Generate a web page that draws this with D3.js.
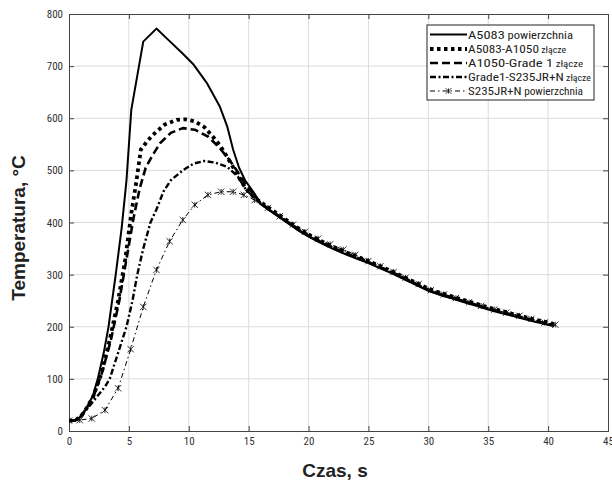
<!DOCTYPE html>
<html><head><meta charset="utf-8">
<script src="https://cdn.jsdelivr.net/npm/d3@7"></script>
<style>
html,body{margin:0;padding:0;background:#fff;}
svg{display:block;}
</style></head>
<body>
<svg id="chart" width="612" height="483"></svg>
<script>
// ---- data ----
const xTicks = [0,5,10,15,20,25,30,35,40,45];
const yTicks = [0,100,200,300,400,500,600,700,800];

const seriesNames = [
  ["A5083", " powierzchnia"],
  ["A5083-A1050", " złącze"],
  ["A1050-Grade 1", " złącze"],
  ["Grade1-S235JR+N", " złącze"],
  ["S235JR+N", " powierzchnia"]
];

const tailT = [16,17,18,19,20,21,22,23,24,25,26,27,28,29,30,31,32,33,34,35,36,37,38,39,40,40.5];
const tail1 = [435,419,403,387,373,361,350,340,331,322,312,302,291,280,269,261,254,247,240,233,227,221,215,209,204,201];
const tail2 = [439,423,407,391,377,365,354,344,335,326,316,306,295,284,273,265,258,251,244,237,231,225,219,213,208,205];
const tail3 = [437,421,405,389,375,363,352,342,333,324,314,304,293,282,271,263,256,249,242,235,229,223,217,211,206,203];
const tail4 = [436,420,404,388,374,362,351,341,332,323,313,303,292,281,270,262,255,248,241,234,228,222,216,210,205,202];

const s1T = [0,0.5,1,1.5,2,2.4,2.9,3.3,3.9,4.4,4.8,5.2,6.2,7.3,8.4,9.4,10.4,11.5,12.6,13.2,13.7,14.2,14.7,15.5];
const s1V = [20,20,28,45,68,100,150,200,300,390,481,616,747,772,748,726,703,668,622,585,540,505,481,455];

const s2T = [0,0.5,1,1.5,2,2.7,3.4,4.1,4.7,5.2,5.6,6.0,6.5,7.0,8.0,9.0,9.7,10.5,11.3,12.0,12.6,13.2,13.8,14.4,15.0,15.5];
const s2V = [20,20,28,45,65,110,175,250,330,417,475,540,555,568,588,597,598,594,583,565,548,526,502,478,458,448];

const s3T = [0,0.5,1,2,2.8,3.5,4.2,4.8,5.4,5.9,6.4,6.9,7.6,8.5,9.5,10.5,11.6,12.5,13.4,14.0,14.7,15.5];
const s3V = [20,20,28,63,115,175,250,330,410,465,505,526,552,572,581,578,565,545,520,500,475,452];

const s4T = [0,0.5,1.2,2.0,3.0,3.4,4.1,4.8,5.3,5.7,6.2,6.8,7.3,7.9,8.5,9.5,10.4,11.3,12.2,13.2,14.1,14.8,15.5];
const s4V = [20,20,34,56,85,100,150,200,250,300,350,400,425,460,481,500,513,518,515,507,488,462,448];

const s5T = [0,0.9,1.9,3.0,4.1,5.15,6.2,7.3,8.4,9.5,10.5,11.6,12.7,13.7,14.6,15.5,16.6,17.6,18.7,19.7,20.8,21.8,22.9,23.9,25.0,26.0,27.1,28.1,29.2,30.2,31.3,32.3,33.4,34.4,35.5,36.5,37.6,38.6,39.7,40.6];
const s5V = [20,21,24,40,82,157,238,309,364,405,434,453,459,459,453,443,428,412,396,382,369,358,348,338,326,316,305,294,282,270,262,255,247,240,233,227,221,215,208,204];

// ---- layout ----
const svg = d3.select("#chart");
const L = 69, R = 608, T = 14, B = 431;
const x = d3.scaleLinear().domain([0,45]).range([L,R]);
const y = d3.scaleLinear().domain([0,800]).range([B,T]);
const tickFont = "'Liberation Sans Narrow','Arial Narrow','Roboto Condensed',sans-serif";

// grid
svg.append("g").selectAll("line").data(xTicks.slice(1,-1)).join("line")
  .attr("x1", d=>x(d)).attr("x2", d=>x(d)).attr("y1", T).attr("y2", B)
  .attr("stroke", "#dcdcdc").attr("stroke-width", 1);
svg.append("g").selectAll("line").data(yTicks.slice(1,-1)).join("line")
  .attr("y1", d=>y(d)).attr("y2", d=>y(d)).attr("x1", L).attr("x2", R)
  .attr("stroke", "#dcdcdc").attr("stroke-width", 1);

// axes
svg.append("g").attr("transform", `translate(0,${B})`)
  .call(d3.axisBottom(x).tickValues(xTicks).tickSize(-5).tickPadding(6));
svg.append("g").attr("transform", `translate(${L},0)`)
  .call(d3.axisLeft(y).tickValues(yTicks).tickSize(-5).tickPadding(6));
svg.append("g").attr("transform", `translate(0,${T})`)
  .call(d3.axisTop(x).tickValues(xTicks).tickSize(-5).tickFormat(""));
svg.append("g").attr("transform", `translate(${R},0)`)
  .call(d3.axisRight(y).tickValues(yTicks).tickSize(-5).tickFormat(""));
svg.selectAll(".domain").attr("stroke", "#444");
svg.selectAll(".tick line").attr("stroke", "#444");
svg.selectAll(".tick text").attr("font-family", tickFont).attr("font-size", 11).attr("fill", "#333");

// lines
svg.append("clipPath").attr("id","pc").append("rect")
  .attr("x", L).attr("y", T).attr("width", R-L).attr("height", B-T);
const plot = svg.append("g").attr("clip-path","url(#pc)");
const line = d3.line().x(d=>x(d[0])).y(d=>y(d[1]));

const styles = [
  {w:2, dash:null},
  {w:3.8, dash:"3.5,3.5"},
  {w:2.6, dash:"8,4"},
  {w:2.4, dash:"6,2.5,2,2.5"},
  {w:1, dash:"5,3,1.5,3"}
];
function pts(t, v, tt, tv){
  const a = t.map((d,i)=>[d, v[i]]);
  return tt ? a.concat(tt.map((d,i)=>[d, tv[i]])) : a;
}
const allData = [
  pts(s1T,s1V,tailT,tail1),
  pts(s2T,s2V,tailT,tail2),
  pts(s3T,s3V,tailT,tail3),
  pts(s4T,s4V,tailT,tail4),
  pts(s5T,s5V)
];

allData.forEach((d,i)=>{
  plot.append("path").datum(d).attr("d", line)
    .attr("fill","none").attr("stroke","#000")
    .attr("stroke-width", styles[i].w)
    .attr("stroke-dasharray", styles[i].dash)
    .attr("stroke-linejoin","round");
});

function star(g, cx, cy, s){
  g.append("path").attr("d",
    `M${cx-s},${cy-s}L${cx+s},${cy+s}M${cx-s},${cy+s}L${cx+s},${cy-s}M${cx},${cy-s*0.9}L${cx},${cy+s*0.9}`)
    .attr("stroke","#000").attr("stroke-width",0.8).attr("fill","none");
}
const mk = plot.append("g");
allData[4].forEach(d=> star(mk, x(d[0]), y(d[1]), 3.2));

// axis titles
svg.append("text").attr("x", 335).attr("y", 477).attr("text-anchor","middle")
  .attr("font-family","'Liberation Sans',Arial,sans-serif").attr("font-weight","bold")
  .attr("font-size", 19).attr("fill","#222").text("Czas, s");
svg.append("text").attr("transform","translate(25,228) rotate(-90)").attr("text-anchor","middle")
  .attr("font-family","'Liberation Sans',Arial,sans-serif").attr("font-weight","bold")
  .attr("font-size", 19).attr("fill","#222").text("Temperatura, °C");

// legend
const lg = svg.append("g");
lg.append("rect").attr("x",427).attr("y",25).attr("width",167).attr("height",75)
  .attr("fill","#fff").attr("stroke","#222").attr("stroke-width",1);
const rowsY = [34.5, 49, 63, 77, 91];
const textW = [105, 98, 115, 123, 115];
seriesNames.forEach((nm,i)=>{
  const yy = rowsY[i];
  lg.append("line").attr("x1",430).attr("x2",467).attr("y1",yy).attr("y2",yy)
    .attr("stroke","#000").attr("stroke-width", styles[i].w)
    .attr("stroke-dasharray", styles[i].dash);
  if(i===4) star(lg, 448.5, yy, 2.8);
  const t = lg.append("text").attr("x",468).attr("y",yy+4)
    .attr("font-family",tickFont).attr("fill","#222")
    .attr("textLength", textW[i]).attr("lengthAdjust","spacingAndGlyphs");
  t.append("tspan").attr("font-size",11.5).text(nm[0]);
  t.append("tspan").attr("font-size", nm[1].includes("złącze") ? 8.5 : 10).text(nm[1]);
});
</script>
</body></html>
